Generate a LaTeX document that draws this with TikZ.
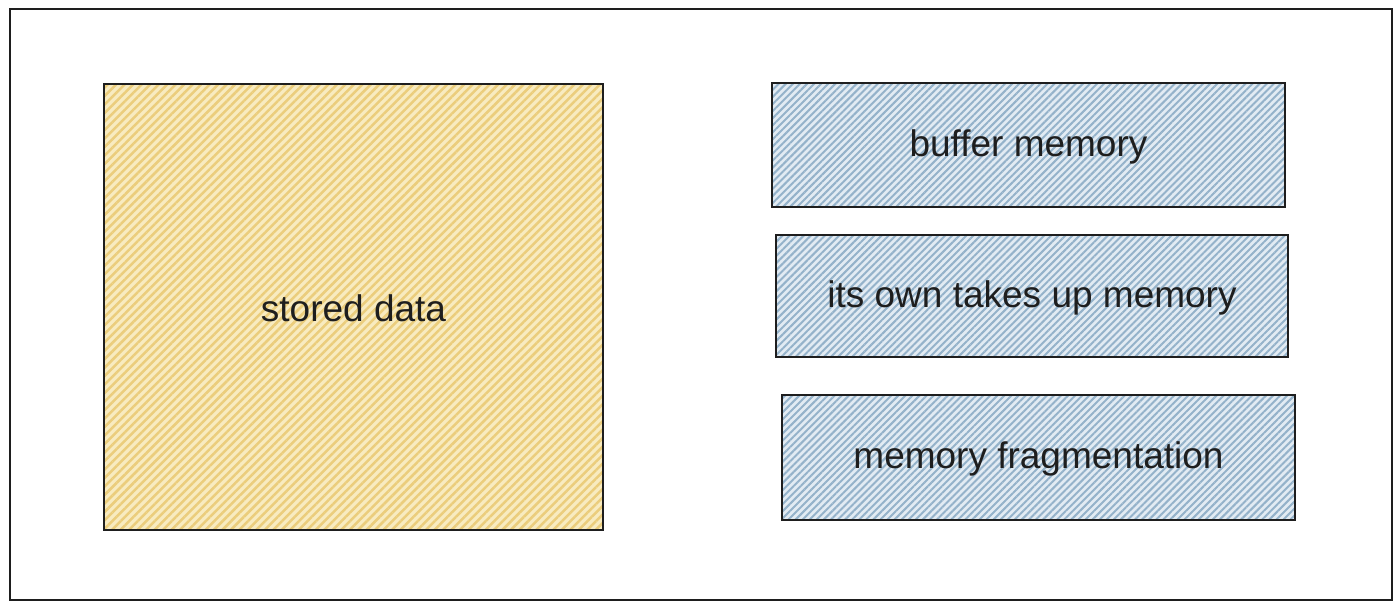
\documentclass[tikz,border=0pt]{standalone}
\usepackage{fontspec}
\setmainfont{Liberation Sans}
\usetikzlibrary{patterns.meta}
\definecolor{yfill}{HTML}{F8EBC0}
\definecolor{yline}{HTML}{EBCD7C}
\definecolor{bfill}{HTML}{E2EBF3}
\definecolor{bline}{HTML}{94B2CA}
\definecolor{ink}{HTML}{1E1E1E}
\tikzset{
  ybox/.style={draw=ink, line width=1.3pt, preaction={fill=yfill},
    pattern={Lines[angle=45,distance=6pt,line width=2.5pt]}, pattern color=yline},
  bbox/.style={draw=ink, line width=1.3pt, preaction={fill=bfill},
    pattern={Lines[angle=45,distance=5pt,line width=2pt]}, pattern color=bline},
  lbl/.style={font=\fontsize{37}{40}\selectfont, text=ink}
}
\begin{document}
\begin{tikzpicture}[x=1pt,y=-1pt]
\useasboundingbox (0,0) rectangle (1400,608);
\fill[white] (0,0) rectangle (1400,608);
\draw[ink, line width=1.3pt] (10,9) rectangle (1392,600);
\path[ybox] (104,84) rectangle (603,530);
\node[lbl] (sd) at (353.5,308) {stored data};
\path[bbox] (772,83) rectangle (1285,207);
\node[lbl] (bm) at (1028.5,147) {buffer memory};
\path[bbox] (776,235) rectangle (1288,357);
\node[lbl] (oo) at (1032,298) {its own takes up memory};
\path[bbox] (782,395) rectangle (1295,520);
\node[lbl] (mf) at (1038.5,459) {memory fragmentation};
\end{tikzpicture}
\end{document}
